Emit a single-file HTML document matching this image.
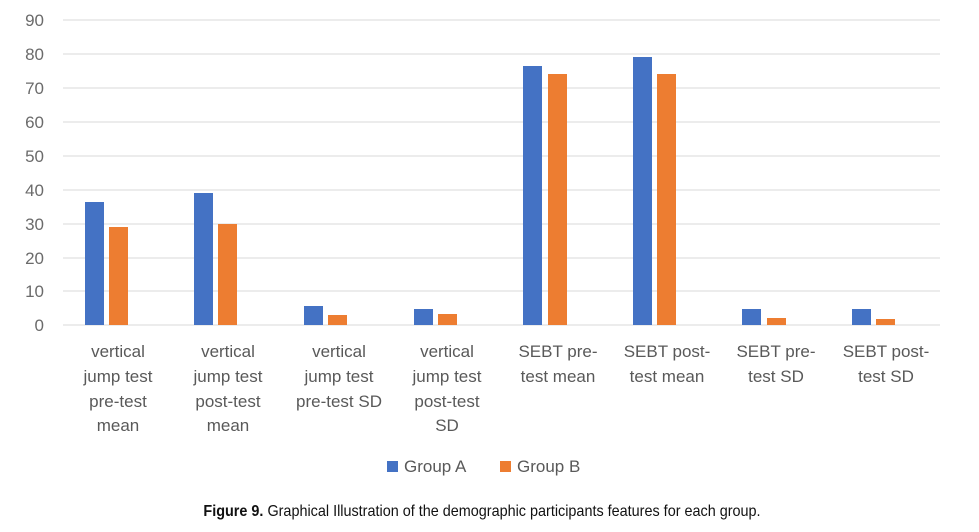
<!DOCTYPE html><html><head><style>body{margin:0;background:#fff;width:979px;height:527px;overflow:hidden;font-family:"Liberation Sans",sans-serif}</style></head><body>
<svg width="979" height="527" xmlns="http://www.w3.org/2000/svg" font-family="Liberation Sans, sans-serif">
<g stroke="#e6e6e6" stroke-width="1.5">
<line x1="63" x2="940" y1="20" y2="20"/><line x1="63" x2="940" y1="54" y2="54"/><line x1="63" x2="940" y1="88" y2="88"/><line x1="63" x2="940" y1="122" y2="122"/><line x1="63" x2="940" y1="156" y2="156"/><line x1="63" x2="940" y1="190" y2="190"/><line x1="63" x2="940" y1="224" y2="224"/><line x1="63" x2="940" y1="258" y2="258"/><line x1="63" x2="940" y1="291" y2="291"/><line x1="63" x2="940" y1="325" y2="325"/></g>
<g fill="#6b6b6b" font-size="17" text-anchor="end">
<text x="44" y="26">90</text><text x="44" y="60">80</text><text x="44" y="94">70</text><text x="44" y="128">60</text><text x="44" y="162">50</text><text x="44" y="196">40</text><text x="44" y="230">30</text><text x="44" y="264">20</text><text x="44" y="297">10</text><text x="44" y="331">0</text></g>
<g fill="#4472c4">
<rect x="85" y="202" width="19" height="123"/><rect x="194" y="193" width="19" height="132"/><rect x="304" y="306" width="19" height="19"/><rect x="414" y="309" width="19" height="16"/><rect x="523" y="66" width="19" height="259"/><rect x="633" y="57" width="19" height="268"/><rect x="742" y="309" width="19" height="16"/><rect x="852" y="309" width="19" height="16"/></g>
<g fill="#ed7d31">
<rect x="109" y="227" width="19" height="98"/><rect x="218" y="224" width="19" height="101"/><rect x="328" y="315" width="19" height="10"/><rect x="438" y="314" width="19" height="11"/><rect x="548" y="74" width="19" height="251"/><rect x="657" y="74" width="19" height="251"/><rect x="767" y="318" width="19" height="7"/><rect x="876" y="319" width="19" height="6"/></g>
<g fill="#595959" font-size="17" text-anchor="middle">
<text x="118" y="357">vertical</text><text x="118" y="382">jump test</text><text x="118" y="407">pre-test</text><text x="118" y="431">mean</text>
<text x="228" y="357">vertical</text><text x="228" y="382">jump test</text><text x="228" y="407">post-test</text><text x="228" y="431">mean</text>
<text x="339" y="357">vertical</text><text x="339" y="382">jump test</text><text x="339" y="407">pre-test SD</text>
<text x="447" y="357">vertical</text><text x="447" y="382">jump test</text><text x="447" y="407">post-test</text><text x="447" y="431">SD</text>
<text x="558" y="357">SEBT pre-</text><text x="558" y="382">test mean</text>
<text x="667" y="357">SEBT post-</text><text x="667" y="382">test mean</text>
<text x="776" y="357">SEBT pre-</text><text x="776" y="382">test SD</text>
<text x="886" y="357">SEBT post-</text><text x="886" y="382">test SD</text></g>
<rect x="387" y="461" width="11" height="11" fill="#4472c4"/><text x="404" y="472" font-size="17" fill="#595959">Group A</text>
<rect x="500" y="461" width="11" height="11" fill="#ed7d31"/><text x="517" y="472" font-size="17" fill="#595959">Group B</text>
<text x="482" y="516" font-size="15.5" fill="#111" text-anchor="middle" transform="translate(482 0) scale(0.93 1) translate(-482 0)"><tspan font-weight="bold">Figure 9.</tspan> Graphical Illustration of the demographic participants features for each group.</text>
</svg></body></html>
